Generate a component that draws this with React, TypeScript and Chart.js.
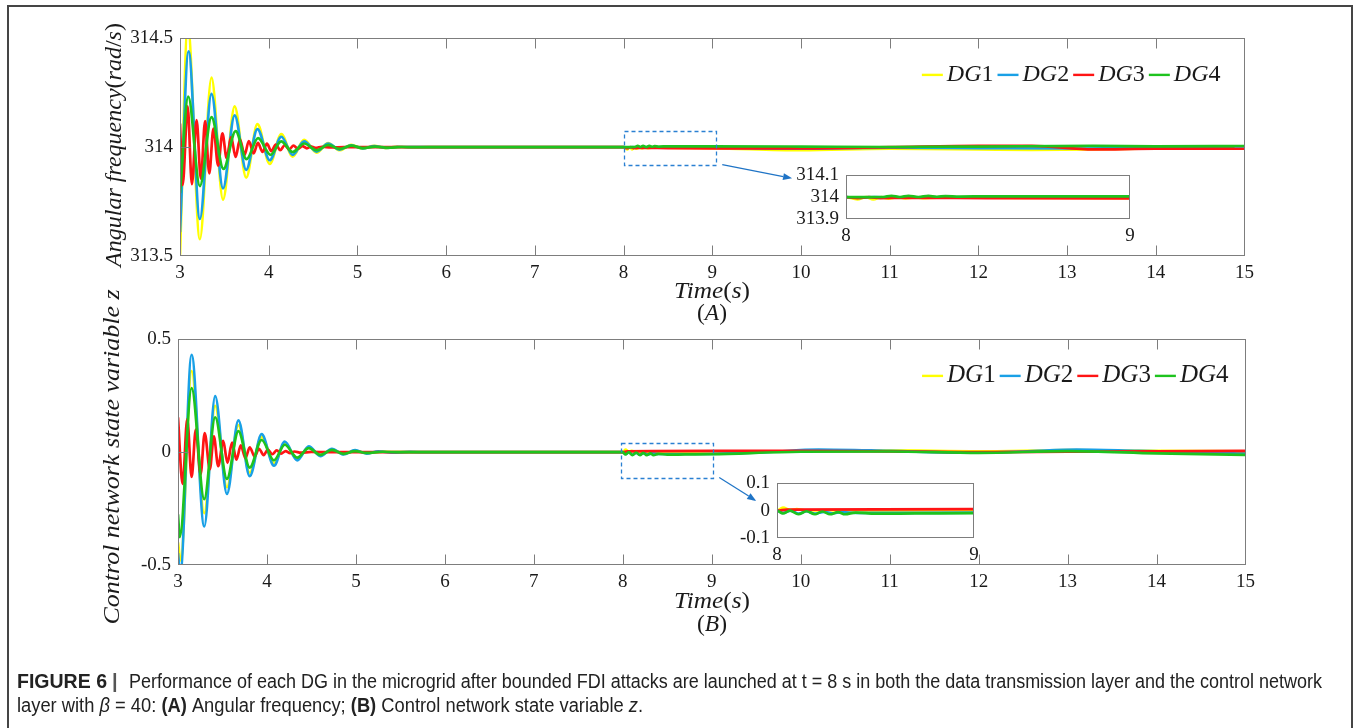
import React, { useEffect, useRef } from 'react';
import { Chart, registerables } from 'chart.js';

Chart.register(...registerables);

type Pt = [number, number];

// ---- axis ticks -------------------------------------------------------
const TIME_TICKS = [3, 4, 5, 6, 7, 8, 9, 10, 11, 12, 13, 14, 15];
const FREQ_TICKS = [313.5, 314, 314.5];
const STATE_TICKS = [-0.5, 0, 0.5];
const INSET_TIME_TICKS = [8, 9];
const INSET_FREQ_TICKS = [313.9, 314, 314.1];
const INSET_STATE_TICKS = [-0.1, 0, 0.1];

// ---- series -----------------------------------------------------------
const SERIES_LABELS = ['DG1', 'DG2', 'DG3', 'DG4'];
const SERIES_COLORS = ['#ffff00', '#19a0e6', '#ff1414', '#1ec31e'];

// angular frequency (rad/s)
const FREQ_DG1: Pt[] = [
  [3.0, 313.506], [3.088, 314.56], [3.224, 313.577], [3.355, 314.32], [3.485, 313.759],
  [3.616, 314.188], [3.746, 313.86], [3.873, 314.106], [4.011, 313.923], [4.142, 314.06],
  [4.27, 313.957], [4.4, 314.034], [4.54, 313.975], [4.67, 314.019], [4.8, 313.986],
  [4.93, 314.011], [5.06, 313.993], [5.19, 314.006], [5.32, 313.996], [5.45, 314.003],
  [5.6, 313.999], [5.8, 314.0], [8.0, 314.0], [8.04, 313.99], [8.07, 314.0], [8.096, 313.99],
  [8.125, 314.0], [8.15, 313.993], [8.18, 314.0], [8.21, 313.995], [8.24, 313.999],
  [8.27, 313.996], [8.32, 313.998], [8.6, 313.997], [9.0, 313.996], [10.0, 313.986],
  [11.0, 313.993], [12.0, 313.99], [12.6, 313.988], [13.3, 313.99], [14.0, 313.995], [15.0, 313.997],
];
const FREQ_DG2: Pt[] = [
  [3.0, 313.61], [3.097, 314.44], [3.224, 313.67], [3.355, 314.245], [3.485, 313.811],
  [3.616, 314.146], [3.746, 313.896], [3.873, 314.083], [4.011, 313.94], [4.142, 314.048],
  [4.27, 313.965], [4.4, 314.027], [4.54, 313.98], [4.67, 314.016], [4.8, 313.989],
  [4.93, 314.009], [5.06, 313.994], [5.19, 314.005], [5.32, 313.997], [5.45, 314.002],
  [5.6, 314.0], [8.0, 314.0], [8.05, 313.997], [8.1, 314.001], [8.2, 313.998], [8.5, 313.999],
  [9.0, 313.998], [10.0, 313.993], [11.0, 313.998], [12.0, 313.996], [13.0, 313.994],
  [14.0, 313.998], [15.0, 314.0],
];
const FREQ_DG3: Pt[] = [
  [3.0, 314.109], [3.03, 313.826], [3.086, 314.188], [3.134, 313.83], [3.187, 314.124],
  [3.235, 313.856], [3.283, 314.12], [3.33, 313.88], [3.377, 314.086], [3.43, 313.915],
  [3.478, 314.064], [3.526, 313.95], [3.576, 314.046], [3.627, 313.955], [3.676, 314.036],
  [3.728, 313.965], [3.776, 314.028], [3.83, 313.972], [3.878, 314.02], [3.93, 313.978],
  [3.98, 314.016], [4.03, 313.982], [4.08, 314.012], [4.13, 313.986], [4.18, 314.009],
  [4.23, 313.99], [4.28, 314.007], [4.33, 313.993], [4.38, 314.005], [4.43, 313.995],
  [4.48, 314.003], [4.53, 313.997], [4.6, 314.002], [4.7, 313.999], [4.85, 314.0],
  [8.0, 314.0], [8.04, 313.996], [8.08, 314.0], [8.12, 313.996], [8.2, 313.997],
  [8.5, 313.996], [9.0, 313.995], [10.0, 313.995], [11.0, 314.0], [12.0, 314.006],
  [12.6, 314.006], [13.3, 313.99], [14.0, 313.993], [15.0, 313.993],
];
const FREQ_DG4: Pt[] = [
  [3.0, 313.789], [3.093, 314.232], [3.224, 313.821], [3.355, 314.138], [3.49, 313.9],
  [3.627, 314.074], [3.75, 313.945], [3.88, 314.042], [4.02, 313.965], [4.14, 314.027],
  [4.27, 313.978], [4.4, 314.017], [4.54, 313.986], [4.67, 314.011], [4.8, 313.992],
  [4.93, 314.007], [5.06, 313.996], [5.2, 314.003], [5.35, 313.998], [5.5, 314.001],
  [5.7, 314.0], [8.0, 314.0], [8.13, 314.001], [8.16, 314.006], [8.19, 314.001],
  [8.22, 314.006], [8.255, 314.001], [8.29, 314.006], [8.32, 314.002], [8.35, 314.005],
  [8.4, 314.003], [8.5, 314.004], [9.0, 314.004], [10.0, 314.003], [11.0, 314.001],
  [12.0, 314.003], [13.3, 314.006], [14.0, 314.004], [15.0, 314.005],
];

// control network state variable z
const STATE_DG1: Pt[] = [
  [3.0, -0.4], [3.03, -0.48], [3.153, 0.36], [3.295, -0.27], [3.418, 0.205], [3.55, -0.155],
  [3.679, 0.12], [3.806, -0.09], [3.94, 0.068], [4.079, -0.05], [4.2, 0.04], [4.34, -0.03],
  [4.47, 0.022], [4.6, -0.015], [4.73, 0.012], [4.86, -0.008], [4.99, 0.006], [5.12, -0.004],
  [5.3, 0.002], [5.5, 0.0], [8.0, 0.0], [8.03, 0.011], [8.07, 0.002], [8.1, 0.006],
  [8.15, 0.001], [8.25, 0.002], [8.5, 0.0], [9.0, 0.0], [10.0, 0.005], [11.0, 0.008],
  [12.0, 0.004], [13.0, 0.009], [14.0, 0.006], [15.0, 0.004],
];
const STATE_DG2: Pt[] = [
  [3.0, -0.448], [3.025, -0.54], [3.153, 0.432], [3.295, -0.329], [3.418, 0.249],
  [3.55, -0.185], [3.679, 0.141], [3.806, -0.106], [3.94, 0.08], [4.079, -0.06], [4.2, 0.047],
  [4.34, -0.036], [4.47, 0.026], [4.6, -0.017], [4.73, 0.015], [4.86, -0.01], [4.99, 0.009],
  [5.12, -0.006], [5.25, 0.004], [5.4, -0.002], [5.6, 0.001], [5.8, 0.0], [8.0, 0.0],
  [8.03, -0.008], [8.07, 0.0], [8.11, -0.011], [8.15, -0.002], [8.19, -0.011], [8.24, -0.004],
  [8.28, -0.01], [8.33, -0.005], [8.4, -0.008], [8.6, -0.008], [9.0, -0.007], [9.6, 0.0],
  [10.2, 0.012], [11.0, 0.006], [11.8, -0.002], [12.5, 0.003], [13.1, 0.012], [13.8, 0.006],
  [14.5, 0.0], [15.0, -0.003],
];
const STATE_DG3: Pt[] = [
  [3.0, 0.154], [3.052, -0.141], [3.104, 0.147], [3.153, -0.11], [3.2, 0.1], [3.254, -0.098],
  [3.3, 0.085], [3.358, -0.075], [3.403, 0.07], [3.452, -0.062], [3.508, 0.05], [3.556, -0.047],
  [3.608, 0.042], [3.657, -0.033], [3.706, 0.03], [3.758, -0.026], [3.806, 0.022],
  [3.862, -0.019], [3.91, 0.015], [3.963, -0.013], [4.01, 0.011], [4.06, -0.009], [4.11, 0.008],
  [4.16, -0.006], [4.21, 0.005], [4.26, -0.004], [4.31, 0.003], [4.38, -0.002], [4.5, 0.001],
  [4.7, 0.0], [8.0, 0.0], [8.05, 0.004], [9.0, 0.006], [10.0, 0.006], [11.0, 0.004],
  [12.0, 0.0], [13.0, 0.002], [14.0, 0.004], [15.0, 0.006],
];
const STATE_DG4: Pt[] = [
  [3.0, -0.276], [3.02, -0.376], [3.153, 0.284], [3.295, -0.208], [3.418, 0.155],
  [3.55, -0.118], [3.679, 0.093], [3.806, -0.068], [3.94, 0.054], [4.079, -0.036], [4.2, 0.033],
  [4.34, -0.024], [4.47, 0.018], [4.6, -0.012], [4.73, 0.01], [4.86, -0.007], [4.99, 0.005],
  [5.12, -0.003], [5.3, 0.002], [5.5, 0.0], [8.0, 0.0], [8.03, -0.01], [8.066, 0.0],
  [8.108, -0.013], [8.15, -0.002], [8.193, -0.013], [8.23, -0.003], [8.269, -0.013],
  [8.31, -0.005], [8.345, -0.013], [8.4, -0.007], [8.5, -0.011], [8.7, -0.01], [9.0, -0.009],
  [10.0, 0.002], [11.0, 0.003], [12.0, -0.003], [13.0, 0.005], [14.0, -0.005], [15.0, -0.012],
];

const FREQ_SERIES = [FREQ_DG1, FREQ_DG2, FREQ_DG3, FREQ_DG4];
const STATE_SERIES = [STATE_DG1, STATE_DG2, STATE_DG3, STATE_DG4];

// ---- styling ----------------------------------------------------------
const SERIF = '"Liberation Serif", "Times New Roman", serif';
const SANS = '"Liberation Sans", Arial, sans-serif';
const TEXT = '#1a1a1a';
const AXIS_GRAY = '#7d7d7d';
const ZOOM_BLUE = '#2a80d2';

// MATLAB-like box with inward ticks on all four sides
const boxPlugin = {
  id: 'mbox',
  afterDatasetsDraw(chart: any, _a: any, o: any) {
    if (!o || !o.show) return;
    const { ctx, chartArea: a, scales } = chart;
    const L = o.tickLen;
    ctx.save();
    ctx.strokeStyle = AXIS_GRAY;
    ctx.lineWidth = 1;
    const l = Math.round(a.left) + 0.5, r = Math.round(a.right) - 0.5;
    const t = Math.round(a.top) + 0.5, b = Math.round(a.bottom) - 0.5;
    ctx.strokeRect(l, t, r - l, b - t);
    if (L > 0) {
      ctx.beginPath();
      for (const tk of scales.x.ticks) {
        const px = Math.round(scales.x.getPixelForValue(tk.value)) + 0.5;
        if (px < l + 2 || px > r - 2) continue;
        ctx.moveTo(px, b); ctx.lineTo(px, b - L);
        ctx.moveTo(px, t); ctx.lineTo(px, t + L);
      }
      for (const tk of scales.y.ticks) {
        const py = Math.round(scales.y.getPixelForValue(tk.value)) + 0.5;
        if (py < t + 2 || py > b - 2) continue;
        ctx.moveTo(l, py); ctx.lineTo(l + L, py);
        ctx.moveTo(r, py); ctx.lineTo(r - L, py);
      }
      ctx.stroke();
    }
    ctx.restore();
  },
};

// dashed zoom region plus the arrow pointing to the magnified view
const zoomMarkPlugin = {
  id: 'zoomMark',
  afterDatasetsDraw(chart: any, _a: any, o: any) {
    if (!o || !o.show) return;
    const { ctx, scales } = chart;
    const X = (v: number) => scales.x.getPixelForValue(v);
    const Y = (v: number) => scales.y.getPixelForValue(v);
    const [t0, t1, v0, v1] = o.box;
    ctx.save();
    ctx.strokeStyle = ZOOM_BLUE;
    ctx.lineWidth = 1.3;
    ctx.setLineDash([4, 3]);
    const x0 = Math.round(X(t0)) + 0.5, x1 = Math.round(X(t1)) + 0.5;
    const y0 = Math.round(Y(v1)) + 0.5, y1 = Math.round(Y(v0)) + 0.5;
    ctx.strokeRect(x0, y0, x1 - x0, y1 - y0);
    ctx.setLineDash([]);
    const ax0 = X(o.from[0]), ay0 = Y(o.from[1]);
    const ax1 = X(o.to[0]), ay1 = Y(o.to[1]);
    const ang = Math.atan2(ay1 - ay0, ax1 - ax0);
    const head = 9, half = 3.5;
    const bx = ax1 - head * Math.cos(ang), by = ay1 - head * Math.sin(ang);
    ctx.strokeStyle = '#1f74c6';
    ctx.lineWidth = 1.2;
    ctx.beginPath();
    ctx.moveTo(ax0, ay0);
    ctx.lineTo(bx, by);
    ctx.stroke();
    ctx.fillStyle = '#1f74c6';
    ctx.beginPath();
    ctx.moveTo(ax1, ay1);
    ctx.lineTo(bx + half * Math.sin(ang), by - half * Math.cos(ang));
    ctx.lineTo(bx - half * Math.sin(ang), by + half * Math.cos(ang));
    ctx.closePath();
    ctx.fill();
    ctx.restore();
  },
};

// legend in the style of $DG1$: italic letters, upright digit
const dgLegendPlugin = {
  id: 'dgLegend',
  afterDraw(chart: any, _a: any, o: any) {
    if (!o || !o.show) return;
    const { ctx, chartArea: a } = chart;
    const fs = o.fontSize;
    const it = `italic ${fs}px ${SERIF}`;
    const up = `${fs}px ${SERIF}`;
    const items = chart.data.datasets.map((ds: any) => {
      const m = /^([A-Za-z]+)(\d+)$/.exec(ds.label) || ['', ds.label, ''];
      ctx.font = it;
      const w1 = ctx.measureText(m[1]).width;
      ctx.font = up;
      const w2 = ctx.measureText(m[2]).width;
      return { color: ds.borderColor, a: m[1], b: m[2], w1, w2 };
    });
    const lineLen = 21, gap = 4, itemGap = 4;
    const total = items.reduce((s: number, i: any) => s + lineLen + gap + i.w1 + i.w2, 0) + itemGap * (items.length - 1);
    let x = a.right - o.rightInset - total;
    const base = a.top + o.baseline;
    ctx.save();
    ctx.textBaseline = 'alphabetic';
    ctx.textAlign = 'left';
    for (const i of items) {
      ctx.strokeStyle = i.color;
      ctx.lineWidth = 2.4;
      ctx.beginPath();
      ctx.moveTo(x, base - 6.5);
      ctx.lineTo(x + lineLen, base - 6.5);
      ctx.stroke();
      x += lineLen + gap;
      ctx.fillStyle = TEXT;
      ctx.font = it;
      ctx.fillText(i.a, x, base);
      x += i.w1;
      ctx.font = up;
      ctx.fillText(i.b, x, base);
      x += i.w2 + itemGap;
    }
    ctx.restore();
  },
};

const fmt = (v: number) => String(Math.round(v * 1000) / 1000);

interface PanelSpec {
  series: Pt[][];
  xTicks: number[];
  yTicks: number[];
  xRange: [number, number];
  yRange: [number, number];
  yAxisWidth: number;
  xAxisHeight: number;
  padTop: number;
  padRight: number;
  tickLen: number;
  lineWidth: number;
  legend?: { rightInset: number; baseline: number; fontSize: number };
  zoom?: { box: number[]; from: number[]; to: number[] };
}

function buildConfig(p: PanelSpec): any {
  const tickFont = { family: SERIF, size: 19 };
  return {
    type: 'scatter',
    data: {
      datasets: p.series.map((pts, i) => ({
        label: SERIES_LABELS[i],
        data: pts.map(([x, y]) => ({ x, y })),
        borderColor: SERIES_COLORS[i],
        backgroundColor: SERIES_COLORS[i],
        borderWidth: p.lineWidth,
        pointRadius: 0,
        showLine: true,
        cubicInterpolationMode: 'monotone',
        fill: false,
        clip: 0,
        order: p.series.length - i,
      })),
    },
    plugins: [boxPlugin, zoomMarkPlugin, dgLegendPlugin],
    options: {
      animation: false,
      responsive: false,
      events: [],
      layout: { padding: { top: p.padTop, right: p.padRight, left: 0, bottom: 0 } },
      scales: {
        x: {
          type: 'linear',
          min: p.xRange[0],
          max: p.xRange[1],
          afterBuildTicks: (s: any) => { s.ticks = p.xTicks.map((value) => ({ value })); },
          afterFit: (s: any) => { s.height = p.xAxisHeight; },
          ticks: { font: tickFont, color: TEXT, padding: 6, maxRotation: 0, autoSkip: false, callback: (v: any) => fmt(Number(v)) },
          grid: { display: false, drawTicks: false },
          border: { display: false },
        },
        y: {
          type: 'linear',
          min: p.yRange[0],
          max: p.yRange[1],
          afterBuildTicks: (s: any) => { s.ticks = p.yTicks.map((value) => ({ value })); },
          afterFit: (s: any) => { s.width = p.yAxisWidth; },
          ticks: { font: tickFont, color: TEXT, padding: 7, autoSkip: false, callback: (v: any) => fmt(Number(v)) },
          grid: { display: false, drawTicks: false },
          border: { display: false },
        },
      },
      plugins: {
        legend: { display: false },
        tooltip: { enabled: false },
        mbox: { show: true, tickLen: p.tickLen },
        zoomMark: p.zoom ? { show: true, ...p.zoom } : { show: false },
        dgLegend: p.legend ? { show: true, ...p.legend } : { show: false },
      },
    },
  };
}

function ChartCanvas(props: { left: number; top: number; width: number; height: number; spec: PanelSpec }) {
  const ref = useRef<HTMLCanvasElement>(null);
  useEffect(() => {
    const chart = new Chart(ref.current as HTMLCanvasElement, buildConfig(props.spec));
    return () => chart.destroy();
  }, []);
  return (
    <canvas
      ref={ref}
      width={props.width}
      height={props.height}
      style={{ position: 'absolute', left: props.left, top: props.top, width: props.width, height: props.height }}
    />
  );
}

const freqMain: PanelSpec = {
  series: FREQ_SERIES, xTicks: TIME_TICKS, yTicks: FREQ_TICKS, xRange: [3, 15], yRange: [313.5, 314.5],
  yAxisWidth: 80, xAxisHeight: 34, padTop: 12, padRight: 14, tickLen: 10, lineWidth: 2.7,
  legend: { rightInset: 24, baseline: 43, fontSize: 24 },
  zoom: { box: [8.0, 9.045, 313.92, 314.076], from: [9.113, 313.92], to: [9.9, 313.857] },
};
const stateMain: PanelSpec = {
  series: STATE_SERIES, xTicks: TIME_TICKS, yTicks: STATE_TICKS, xRange: [3, 15], yRange: [-0.5, 0.5],
  yAxisWidth: 80, xAxisHeight: 34, padTop: 12, padRight: 14, tickLen: 10, lineWidth: 2.7,
  legend: { rightInset: 17, baseline: 43, fontSize: 25 },
  zoom: { box: [7.984, 9.017, -0.116, 0.039], from: [9.084, -0.112], to: [9.5, -0.216] },
};
const freqInset: PanelSpec = {
  series: FREQ_SERIES, xTicks: INSET_TIME_TICKS, yTicks: INSET_FREQ_TICKS, xRange: [8, 9], yRange: [313.9, 314.1],
  yAxisWidth: 60, xAxisHeight: 30, padTop: 12, padRight: 14, tickLen: 0, lineWidth: 2.7,
};
const stateInset: PanelSpec = {
  series: STATE_SERIES, xTicks: INSET_TIME_TICKS, yTicks: INSET_STATE_TICKS, xRange: [8, 9], yRange: [-0.1, 0.1],
  yAxisWidth: 60, xAxisHeight: 30, padTop: 12, padRight: 14, tickLen: 0, lineWidth: 2.7,
};

const it = { fontStyle: 'italic' as const };
const fit = { lengthAdjust: 'spacingAndGlyphs' as const };

export default function App() {
  return (
    <div style={{ position: 'fixed', left: 0, top: 0, width: 1356, height: 728, overflow: 'hidden', background: '#fff' }}>
      <div
        style={{
          position: 'absolute', left: 7, top: 5, width: 1346, height: 800,
          border: '2px solid #454545', boxSizing: 'border-box',
        }}
      />
      <ChartCanvas left={100} top={20} width={1160} height={270} spec={freqMain} />
      <ChartCanvas left={98} top={321} width={1163} height={278} spec={stateMain} />
      <ChartCanvas left={786} top={157} width={358} height={92} spec={freqInset} />
      <ChartCanvas left={717} top={465} width={271} height={103} spec={stateInset} />
      <svg width={1356} height={728} style={{ position: 'absolute', left: 0, top: 0 }}>
        <g fontFamily={SERIF} fontSize={24} fill={TEXT}>
          <text x={712} y={298} textAnchor="middle" textLength={76} {...fit}>
            <tspan {...it}>Time</tspan>(<tspan {...it}>s</tspan>)
          </text>
          <text x={712} y={320} textAnchor="middle" textLength={30} {...fit}>
            (<tspan {...it}>A</tspan>)
          </text>
          <text x={712} y={608} textAnchor="middle" textLength={76} {...fit}>
            <tspan {...it}>Time</tspan>(<tspan {...it}>s</tspan>)
          </text>
          <text x={712} y={631} textAnchor="middle" textLength={30} {...fit}>
            (<tspan {...it}>B</tspan>)
          </text>
          <text transform="translate(121,145) rotate(-90)" textAnchor="middle" textLength={244} {...fit}>
            <tspan {...it}>Angular frequency</tspan>(<tspan {...it}>rad</tspan>/<tspan {...it}>s</tspan>)
          </text>
          <text transform="translate(119,457) rotate(-90)" textAnchor="middle" textLength={335} {...fit} {...it}>
            {'Control network state variable z'}
          </text>
        </g>
        <g fontFamily={SANS} fontSize={20} fill="#222">
          <text x={17} y={688} fontWeight="bold" textLength={90} {...fit}>{'FIGURE 6'}</text>
          <text x={112} y={688} fontWeight="bold" fill="#555">{'|'}</text>
          <text x={129} y={688} textLength={1193} {...fit}>
            {'Performance of each DG in the microgrid after bounded FDI attacks are launched at t = 8 s in both the data transmission layer and the control network'}
          </text>
          <text x={17} y={712} textLength={626} {...fit}>
            <tspan>{'layer with '}</tspan>
            <tspan {...it}>{'β'}</tspan>
            <tspan>{' = 40: '}</tspan>
            <tspan fontWeight="bold">{'(A)'}</tspan>
            <tspan>{' Angular frequency; '}</tspan>
            <tspan fontWeight="bold">{'(B)'}</tspan>
            <tspan>{' Control network state variable '}</tspan>
            <tspan {...it}>{'z'}</tspan>
            <tspan>{'.'}</tspan>
          </text>
        </g>
      </svg>
    </div>
  );
}
